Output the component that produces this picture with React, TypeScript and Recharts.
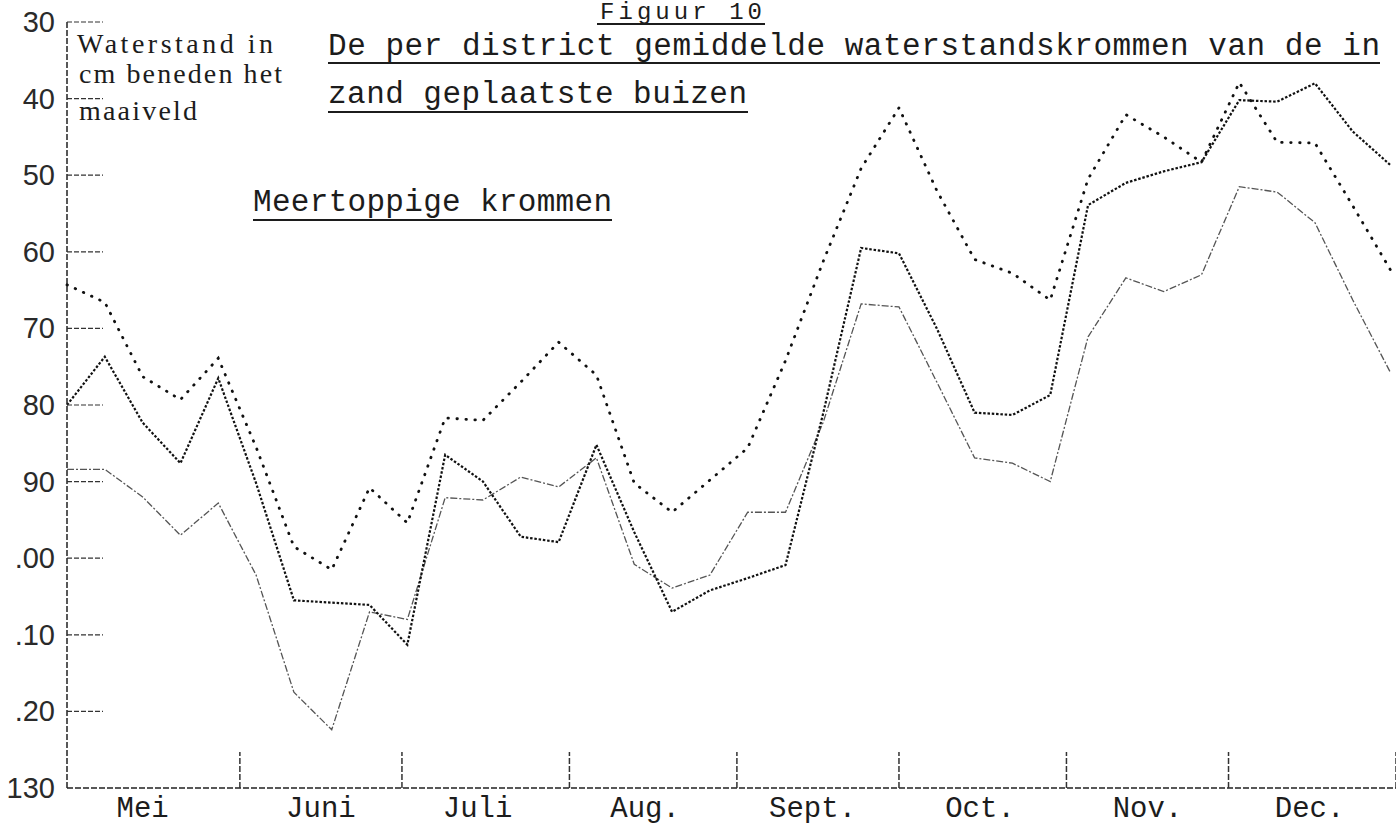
import { LineChart, Line, XAxis, YAxis } from 'recharts';

// meetdagen, wekelijks (0 = 1 mei)
const days = [
  -1, 6, 13, 20, 27, 34, 41, 48, 55, 62, 69, 76, 83, 90, 97, 104, 111, 118,
  125, 132, 139, 146, 153, 160, 167, 174, 181, 188, 195, 202, 209, 216, 223, 230, 237, 244,
];

// waterstand in cm beneden maaiveld, per district gemiddeld
const districtA = [
  64.3, 66.6, 76.3, 79.3, 73.9, 85.5, 98.5, 101.5, 90.8, 95.4, 81.7, 82, 77, 71.8, 76.1, 90.2, 94, 89.8,
  85.6, 74.2, 61.2, 49.1, 41.2, 52, 61, 62.8, 66.3, 50.5, 42.1, 45, 48.3, 37.9, 45.7, 45.8, 54, 62.4,
];
const districtB = [
  80, 73.7, 82.3, 87.6, 76.5, 90.2, 105.5, 105.8, 106.1, 111.3, 86.5, 90, 97.2, 97.9, 85.2, 96.6, 107, 104.2,
  102.6, 100.9, 81, 59.5, 60.2, 70, 81, 81.3, 78.7, 53.9, 51, 49.5, 48.3, 40.2, 40.4, 38, 44.3, 48.7,
];
const districtC = [
  88.4, 88.4, 92, 97, 92.8, 102.2, 117.5, 122.4, 107, 108, 92.1, 92.4, 89.4, 90.7, 86.9, 100.8, 103.9, 102.2,
  94, 94, 82.2, 66.8, 67.2, 77, 86.9, 87.6, 90, 71.1, 63.4, 65.2, 63, 51.5, 52.2, 56.2, 66.3, 75.8,
];

const monthStarts = [31, 61, 92, 123, 153, 184, 214, 245];
const monthNames = ['Mei', 'Juni', 'Juli', 'Aug.', 'Sept.', 'Oct.', 'Nov.', 'Dec.'];
const monthLabelDays = [13, 46, 75, 106, 137, 168, 199, 229];

const depthTicks = [30, 40, 50, 60, 70, 80, 90, 100, 110, 120, 130];
const depthLabels = ['30', '40', '50', '60', '70', '80', '90', '.00', '.10', '.20', '130'];

const data = days.map((day, i) => ({
  day,
  a: districtA[i],
  b: districtB[i],
  c: districtC[i],
}));

const MONO = '"Liberation Mono", "DejaVu Sans Mono", monospace';
const SERIF = '"Liberation Serif", "DejaVu Serif", serif';
const SANS = '"Liberation Sans", Arial, sans-serif';
const INK = '#1c1c1c';

function DepthTick(props: any) {
  const { x, y, payload } = props;
  const idx = depthTicks.indexOf(payload.value);
  return (
    <g>
      {payload.value !== 130 && (
        <line x1={x} y1={y} x2={x + 36} y2={y} stroke="#333" strokeWidth={1.2} strokeDasharray="5 2" />
      )}
      <text
        x={x - 12}
        y={y}
        textAnchor="end"
        dominantBaseline="central"
        fontFamily={SANS}
        fontSize={29}
        fill="#2a2a2a"
      >
        {depthLabels[idx]}
      </text>
    </g>
  );
}

function MonthTick(props: any) {
  const { x, y, payload } = props;
  const v = payload.value;
  if (monthStarts.includes(v)) {
    return <line x1={x} y1={y} x2={x} y2={y - 36} stroke="#333" strokeWidth={1.5} strokeDasharray="6 2" />;
  }
  const idx = monthLabelDays.indexOf(v);
  return (
    <text x={x} y={y + 29} textAnchor="middle" fontFamily={MONO} fontSize={29} fill={INK}>
      {monthNames[idx]}
    </text>
  );
}

function Headings() {
  return (
    <svg
      width={1396}
      height={826}
      style={{ position: 'absolute', left: 0, top: 0, pointerEvents: 'none' }}
    >
      <g fontFamily={MONO} fontSize={31} fill={INK}>
        <text x={600} y={19} fontSize={24} textLength={162} lengthAdjust="spacing">Figuur 10</text>
        <text x={328} y={55} textLength={1052} lengthAdjust="spacing">
          De per district gemiddelde waterstandskrommen van de in
        </text>
        <text x={328} y={103} textLength={419} lengthAdjust="spacing">zand geplaatste buizen</text>
        <text x={253} y={211} textLength={359} lengthAdjust="spacing">Meertoppige krommen</text>
      </g>
      <g stroke={INK} strokeWidth={2}>
        <line x1={597} y1={24} x2={765} y2={24} />
        <line x1={328} y1={63} x2={1380} y2={63} />
        <line x1={328} y1={112} x2={748} y2={112} />
        <line x1={253} y1={220} x2={612} y2={220} />
      </g>
      <g fontFamily={SERIF} fontSize={28} fill={INK}>
        <text x={77} y={53} textLength={196} lengthAdjust="spacing">Waterstand in</text>
        <text x={79} y={83} textLength={203} lengthAdjust="spacing">cm beneden het</text>
        <text x={79} y={120} textLength={118} lengthAdjust="spacing">maaiveld</text>
      </g>
    </svg>
  );
}

export default function App() {
  return (
    <div style={{ position: 'absolute', left: 0, top: 0, width: 1396, height: 826, background: '#fff' }}>
      <LineChart width={1396} height={826} data={data} margin={{ top: 22, right: 0, bottom: 0, left: 0 }}>
        <XAxis
          dataKey="day"
          type="number"
          domain={[-1, 245]}
          ticks={[...monthStarts, ...monthLabelDays]}
          interval={0}
          height={38}
          tickSize={0}
          tickMargin={0}
          tickLine={false}
          axisLine={{ stroke: '#222', strokeWidth: 1.5, strokeDasharray: '6 2' }}
          tick={(p: any) => <MonthTick {...p} />}
        />
        <YAxis
          type="number"
          domain={[30, 130]}
          reversed
          ticks={depthTicks}
          interval={0}
          width={67}
          tickSize={0}
          tickMargin={0}
          tickLine={false}
          axisLine={{ stroke: '#222', strokeWidth: 1.5, strokeDasharray: '6 2' }}
          tick={(p: any) => <DepthTick {...p} />}
        />
        <Line
          dataKey="c"
          type="linear"
          stroke="#555"
          strokeWidth={1.3}
          strokeDasharray="7 2 2 2"
          dot={false}
          isAnimationActive={false}
        />
        <Line
          dataKey="b"
          type="linear"
          stroke="#111"
          strokeWidth={2.2}
          strokeDasharray="2.5 1.8"
          dot={false}
          isAnimationActive={false}
        />
        <Line
          dataKey="a"
          type="linear"
          stroke="#111"
          strokeWidth={2.8}
          strokeDasharray="0.5 8.5"
          strokeLinecap="round"
          dot={false}
          isAnimationActive={false}
        />
      </LineChart>
      <Headings />
    </div>
  );
}
